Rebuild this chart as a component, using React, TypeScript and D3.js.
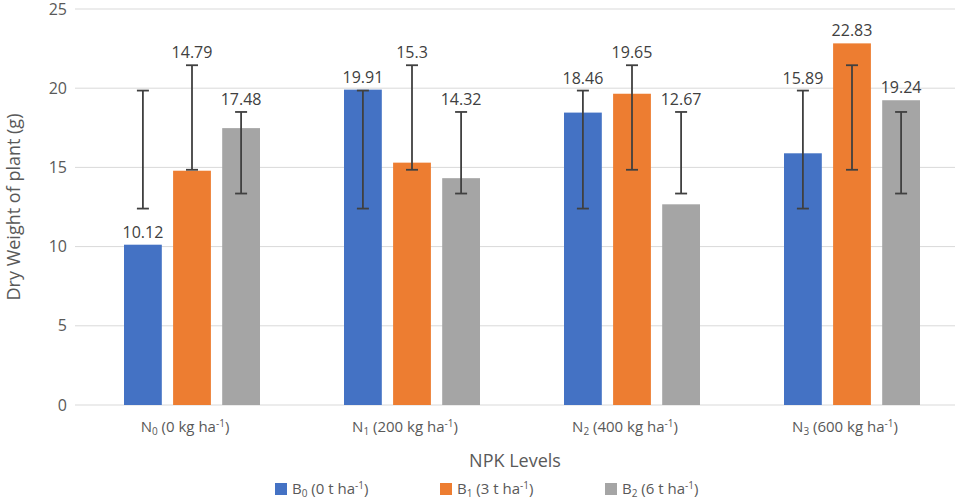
import React from 'react';
import * as d3 from 'd3';

const categories = ['0', '1', '2', '3'];
const catRates = ['0 kg ha', '200 kg ha', '400 kg ha', '600 kg ha'];
const seriesNames = ['0', '1', '2'];
const seriesRates = ['0 t ha', '3 t ha', '6 t ha'];
const colors = ['#4472c4', '#ed7d31', '#a5a5a5'];
const values = [
  [10.12, 19.91, 18.46, 15.89],
  [14.79, 15.3, 19.65, 22.83],
  [17.48, 14.32, 12.67, 19.24],
];
const errLow = [12.4, 14.85, 13.35];
const errHigh = [19.85, 21.45, 18.5];
const yTicks = [0, 5, 10, 15, 20, 25];

const W = 964, H = 502;
const m = { left: 75, right: 955, top: 9, bottom: 405 };
const font = 'Open Sans, Noto Sans, sans-serif';

const App: React.FC = () => {
  const y = d3.scaleLinear().domain([0, 25]).range([m.bottom, m.top]);
  const x0 = d3.scaleBand().domain(categories).range([m.left, m.right]);
  const x1 = d3.scaleBand().domain(seriesNames).range([49, 185]).paddingInner(0.23);
  return (
    <svg width={W} height={H} style={{ position: 'absolute', left: 0, top: 0 }} fontFamily={font}>
      {yTicks.map(t => (
        <g key={t}>
          <line x1={m.left} x2={m.right} y1={y(t)} y2={y(t)} stroke="#d9d9d9" />
          <text x={m.left - 8} y={y(t)} dy="0.35em" textAnchor="end" fontSize={16} fill="#595959">{t}</text>
        </g>
      ))}
      {values.map((ser, si) => ser.map((v, ci) => {
        const bx = x0(categories[ci])! + x1(seriesNames[si])!;
        const cx = bx + x1.bandwidth() / 2;
        const ly = v < errLow[si] - 1 ? y(v) - 7 : y(Math.max(v, errHigh[si])) - 7;
        return (
          <g key={`${si}-${ci}`}>
            <rect x={bx} y={y(v)} width={x1.bandwidth()} height={y(0) - y(v)} fill={colors[si]} />
            <g stroke="#404040" strokeWidth={1.8}>
              <line x1={cx} x2={cx} y1={y(errLow[si])} y2={y(errHigh[si])} />
              <line x1={cx - 6} x2={cx + 6} y1={y(errLow[si])} y2={y(errLow[si])} />
              <line x1={cx - 6} x2={cx + 6} y1={y(errHigh[si])} y2={y(errHigh[si])} />
            </g>
            <text x={cx} y={ly} textAnchor="middle" fontSize={16} fill="#404040">{v}</text>
          </g>
        );
      }))}
      {categories.map((c, i) => (
        <text key={c} x={x0(c)! + x0.bandwidth() / 2} y={432} textAnchor="middle" fontSize={15} fill="#595959">
          N<tspan fontSize={10} dy={3}>{c}</tspan><tspan dy={-3}> ({catRates[i]}</tspan><tspan fontSize={10} dy={-5}>-1</tspan><tspan dy={5}>)</tspan>
        </text>
      ))}
      <text x={(m.left + m.right) / 2} y={467} textAnchor="middle" fontSize={18} fill="#595959">NPK Levels</text>
      <text transform={`translate(20,${(m.top + m.bottom) / 2}) rotate(-90)`} textAnchor="middle" fontSize={18} fill="#595959">Dry Weight of plant (g)</text>
      {seriesNames.map((s, i) => {
        const lx = 275 + i * 165;
        return (
          <g key={s}>
            <rect x={lx} y={483} width={12} height={12} fill={colors[i]} />
            <text x={lx + 17} y={494} fontSize={15} fill="#595959">
              B<tspan fontSize={10} dy={3}>{s}</tspan><tspan dy={-3}> ({seriesRates[i]}</tspan><tspan fontSize={10} dy={-5}>-1</tspan><tspan dy={5}>)</tspan>
            </text>
          </g>
        );
      })}
    </svg>
  );
};

export default App;
